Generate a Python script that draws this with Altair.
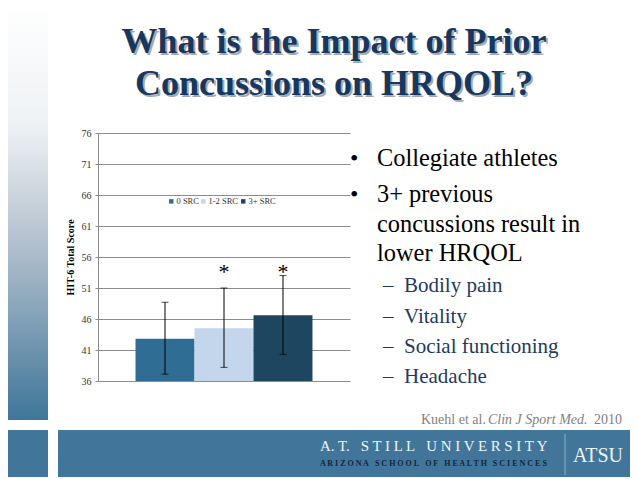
import altair as alt
import pandas as pd

# ---- data ----
groups = ["0 SRC", "1-2 SRC", "3+ SRC"]
means = [42.8, 44.5, 46.6]
err_low = [37.1, 38.2, 40.3]
err_high = [48.7, 51.0, 53.0]
sig = ["", "*", "*"]
y_ticks = [36, 41, 46, 51, 56, 61, 66, 71, 76]
bar_colors = ["#2f6d95", "#c4d6ec", "#1f4661"]

title_lines = ["What is the Impact of Prior", "Concussions on HRQOL?"]
bullet_lines = ["Collegiate athletes", "3+ previous", "concussions result in", "lower HRQOL"]
sub_items = ["Bodily pain", "Vitality", "Social functioning", "Headache"]
ref_parts = ["Kuehl et al.", "Clin J Sport Med.", "2010"]
band_lines = ["A. T.\u00a0\u00a0\u00a0S T I L L\u00a0\u00a0\u00a0U N I V E R S I T Y",
              "A R I Z O N A\u00a0\u00a0\u00a0S C H O O L\u00a0\u00a0\u00a0O F\u00a0\u00a0\u00a0"
              "H E A L T H\u00a0\u00a0\u00a0S C I E N C E S",
              "ATSU"]

SERIF = "Liberation Serif"
df = pd.DataFrame({"group": groups, "mean": means, "low": err_low,
                   "high": err_high, "sig": sig})
one = pd.DataFrame({"k": [0]})


def txt(s, x, y, size, color="#000000", align="left", weight="normal",
        style="normal", dx=0, dy=0):
    return alt.Chart(one).mark_text(
        text=s, align=align, baseline="alphabetic", font=SERIF,
        fontSize=size, color=color, fontWeight=weight, fontStyle=style,
        dx=dx, dy=dy).encode(x=alt.value(x), y=alt.value(y))


def box(x1, x2, y1, y2, color):
    return alt.Chart(one).mark_rect(color=color).encode(
        x=alt.value(x1), x2=alt.value(x2), y=alt.value(y1), y2=alt.value(y2))


grad = {"gradient": "linear", "x1": 0, "x2": 0, "y1": 0, "y2": 1,
        "stops": [{"offset": 0, "color": "#ffffff"},
                  {"offset": 0.3, "color": "#eef1f4"},
                  {"offset": 0.6, "color": "#aebdcb"},
                  {"offset": 1, "color": "#3f7699"}]}

layers = []
layers.append(alt.Chart(one).mark_rect(color=grad).encode(
    x=alt.value(-98), x2=alt.value(-50), y=alt.value(-133), y2=alt.value(287)))
layers.append(box(-98, -50, 297, 344, "#41769a"))
layers.append(box(-40, 540, 297, 344, "#41769a"))

xenc = alt.X("group:N", sort=groups, axis=None,
             scale=alt.Scale(paddingInner=0, paddingOuter=0.636))
yscale = alt.Scale(domain=[36, 76], zero=False, nice=False)
yaxis = alt.Axis(values=y_ticks, tickCount=9, title="HIT-6 Total Score",
                 titleFont=SERIF, titleFontSize=10,
                 titleFontWeight="bold", titleColor="#000000",
                 labelFont=SERIF, labelFontSize=10,
                 labelColor="#333333", labelOverlap=False,
                 labelFlush=False, grid=True,
                 gridColor="#8c8c8c", domainColor="#8c8c8c",
                 tickColor="#8c8c8c", tickSize=3, labelPadding=4,
                 titlePadding=6)

bars = alt.Chart(df).mark_bar().encode(
    x=xenc,
    y=alt.Y("mean:Q", scale=yscale, axis=yaxis),
    y2=alt.Y2(datum=36),
    color=alt.Color("group:N", scale=alt.Scale(domain=groups, range=bar_colors),
                    legend=alt.Legend(orient="none", legendX=69, legendY=64,
                                      direction="horizontal", title=None,
                                      symbolType="square", symbolSize=20,
                                      symbolStrokeWidth=0, labelFont=SERIF,
                                      labelFontSize=8.5, labelColor="#333333",
                                      columnPadding=0, labelOffset=1)),
)
rules = alt.Chart(df).mark_rule(color="#000000", strokeWidth=1).encode(
    x=xenc, y=alt.Y("low:Q", scale=yscale, axis=yaxis), y2="high:Q")
cap_lo = alt.Chart(df).mark_tick(color="#000000", size=7, thickness=1).encode(
    x=xenc, y=alt.Y("low:Q", scale=yscale, axis=yaxis))
cap_hi = alt.Chart(df).mark_tick(color="#000000", size=7, thickness=1).encode(
    x=xenc, y=alt.Y("high:Q", scale=yscale, axis=yaxis))
stars = alt.Chart(df).mark_text(font=SERIF, fontSize=22, baseline="alphabetic",
                                color="#000000").encode(
    x=xenc, y=alt.Y(datum=52.45, scale=yscale, axis=yaxis), text="sig:N")
layers += [bars, rules, cap_lo, cap_hi, stars]

# title with shadow
for s, y in zip(title_lines, [-80, -38]):
    layers.append(txt(s, 236, y, 36, color="#a3aab2", align="center",
                      weight="bold", dx=2, dy=2))
    layers.append(txt(s, 236, y, 36, color="#17375e", align="center",
                      weight="bold"))

# bullets
by = [33, 69, 99, 128]
layers.append(txt("\u2022", 252, by[0], 24))
layers.append(txt("\u2022", 252, by[1], 24))
for s, y in zip(bullet_lines, by):
    layers.append(txt(s, 279, y, 24.4))
sy = [159, 190, 220, 250]
for s, y in zip(sub_items, sy):
    layers.append(txt("\u2013", 285, y, 21, color="#1f3a60"))
    layers.append(txt(s, 306, y, 21, color="#1f3a60"))

# reference
layers.append(txt(ref_parts[0], 323, 291, 14, color="#7f7f7f"))
layers.append(txt(ref_parts[1], 390, 291, 14, color="#7f7f7f", style="italic"))
layers.append(txt(ref_parts[2], 524, 291, 14, color="#7f7f7f", align="right"))

# footer band text
layers.append(txt(band_lines[0], 222, 318, 14.9, color="#f2f5f8"))
layers.append(txt(band_lines[1], 222, 333, 8, color="#10263d", weight="bold"))
layers.append(alt.Chart(one).mark_rule(color="#8fb0c8", strokeWidth=1).encode(
    x=alt.value(467), y=alt.value(301), y2=alt.value(342)))
layers.append(txt(band_lines[2], 475, 329, 20, color="#eef3f7"))

chart = alt.layer(*layers).properties(
    width=252, height=248,
    autosize=alt.AutoSizeParams(type="none"),
    padding={"left": 90, "top": 125, "right": 280, "bottom": 98},
    background="#ffffff",
).configure_view(strokeWidth=0)

chart.save("out.html", embed_options={"renderer": "svg", "actions": False})
